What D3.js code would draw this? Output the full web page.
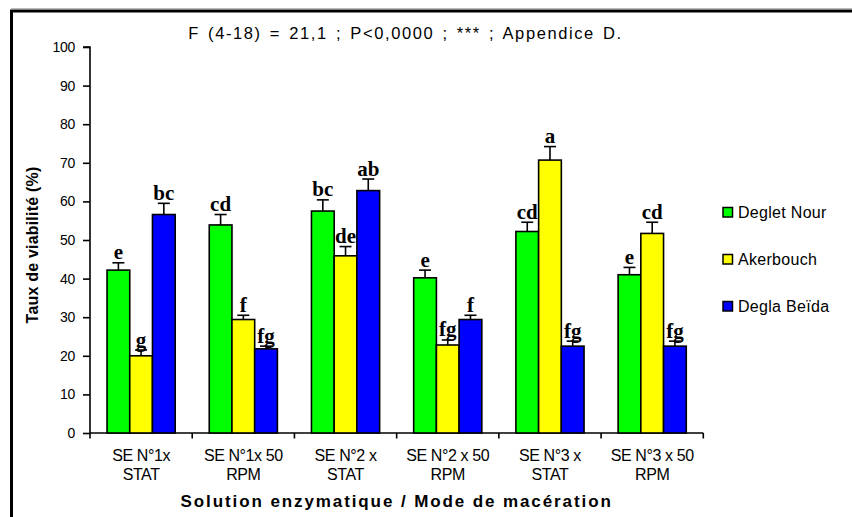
<!DOCTYPE html>
<html><head><meta charset="utf-8">
<script src="https://cdn.jsdelivr.net/npm/d3@7"></script>
<style>body{margin:0;background:#fff}svg{display:block}</style>
</head><body>
<script>
const categories = [["SE N°1x","STAT"],["SE N°1x 50","RPM"],["SE N°2 x","STAT"],["SE N°2 x 50","RPM"],["SE N°3 x","STAT"],["SE N°3 x 50","RPM"]];
const seriesNames = ["Deglet Nour","Akerbouch","Degla Beïda"];
const seriesColors = ["#00ff00","#ffff00","#0000ff"];
const degletNour = [42.2, 53.9, 57.5, 40.2, 52.2, 41.0];
const degletNourErr = [1.9, 2.7, 2.9, 2.0, 2.4, 1.9];
const degletNourLetters = ["e","cd","bc","e","cd","e"];
const akerbouch = [20.0, 29.4, 45.9, 22.8, 70.7, 51.7];
const akerbouchErr = [1.5, 1.1, 2.4, 1.3, 3.5, 2.9];
const akerbouchLetters = ["g","f","de","fg","a","cd"];
const deglaBeida = [56.6, 21.8, 62.8, 29.4, 22.5, 22.5];
const deglaBeidaErr = [2.9, 0.7, 3.0, 1.1, 1.3, 1.3];
const deglaBeidaLetters = ["bc","fg","ab","f","fg","fg"];
const yTicks = [0,10,20,30,40,50,60,70,80,90,100];
const titleText = "F (4-18) = 21,1 ; P<0,0000 ; *** ; Appendice D.";
const xTitle = "Solution enzymatique / Mode de macération";
const yTitle = "Taux de viabilité (%)";

const values = [degletNour, akerbouch, deglaBeida];
const errs = [degletNourErr, akerbouchErr, deglaBeidaErr];
const letters = [degletNourLetters, akerbouchLetters, deglaBeidaLetters];

const W = 852, H = 517;
const svg = d3.select("body").append("svg").attr("width", W).attr("height", H);

// frame
svg.append("line").attr("x1",11).attr("x2",W).attr("y1",8.5).attr("y2",8.5).attr("stroke","#bbb").attr("stroke-width",1);
svg.append("line").attr("x1",10).attr("x2",W).attr("y1",11).attr("y2",11).attr("stroke","#000").attr("stroke-width",3);
svg.append("line").attr("x1",11.5).attr("x2",11.5).attr("y1",10).attr("y2",H).attr("stroke","#000").attr("stroke-width",3);

const xLeft = 90, xRight = 703.3, yTop = 47, yBottom = 433;
const y = d3.scaleLinear().domain([0,100]).range([yBottom, yTop]);
const catIdx = d3.range(categories.length);
const x0 = d3.scaleBand().domain(catIdx).range([xLeft, xRight]).padding(0);
const bw = x0.bandwidth();
const x1 = d3.scaleBand().domain(d3.range(seriesNames.length)).range([bw/6, bw*5/6]).padding(0);

// y axis
const yAxis = d3.axisLeft(y).tickValues(yTicks).tickSize(7).tickPadding(8);
const gy = svg.append("g").attr("transform",`translate(${xLeft},0)`).call(yAxis);
gy.select(".domain").attr("stroke","#000").attr("stroke-width",1.6).attr("d",`M-7,${yTop}H0V${yBottom}`);
gy.selectAll(".tick line").attr("stroke","#000").attr("stroke-width",1.6);
gy.selectAll(".tick text").attr("font-family","Arial, 'Liberation Sans', sans-serif").attr("font-size",14).attr("fill","#000").attr("letter-spacing","-0.3px");

// x axis
const boundaries = d3.range(categories.length+1).map(i => i < categories.length ? x0(i) : xRight);
svg.append("line").attr("x1",xLeft).attr("x2",xRight).attr("y1",yBottom).attr("y2",yBottom).attr("stroke","#000").attr("stroke-width",1.6);
svg.append("g").selectAll("line").data(boundaries).join("line")
  .attr("x1",d=>d).attr("x2",d=>d).attr("y1",yBottom).attr("y2",yBottom+5.5).attr("stroke","#000").attr("stroke-width",1.6);

// category labels
const catG = svg.append("g").attr("font-family","Arial, 'Liberation Sans', sans-serif").attr("font-size",16).attr("fill","#000").attr("text-anchor","middle");
catIdx.forEach(i => {
  const t = catG.append("text").attr("x", x0(i)+bw/2).attr("y",460.5).attr("letter-spacing","-0.4px");
  t.append("tspan").attr("x", x0(i)+bw/2).text(categories[i][0]);
  t.append("tspan").attr("x", x0(i)+bw/2).attr("dy",19).text(categories[i][1]);
});

// bars
values.forEach((vals, s) => {
  const g = svg.append("g");
  vals.forEach((v, i) => {
    const bx = x0(i) + x1(s), w = x1.bandwidth();
    const top = y(v), et = y(v + errs[s][i]);
    const cx = bx + w/2;
    g.append("line").attr("x1",cx).attr("x2",cx).attr("y1",top).attr("y2",et).attr("stroke","#000").attr("stroke-width",1.6);
    g.append("line").attr("x1",cx-6).attr("x2",cx+6).attr("y1",et).attr("y2",et).attr("stroke","#000").attr("stroke-width",1.6);
    g.append("rect").attr("x",bx).attr("y",top).attr("width",w).attr("height",yBottom-top)
      .attr("fill",seriesColors[s]).attr("stroke","#000").attr("stroke-width",1.6);
    g.append("text").attr("x",cx).attr("y",et-3.5).attr("text-anchor","middle")
      .attr("font-family","'Times New Roman','Liberation Serif',serif").attr("font-weight","bold").attr("font-size",21)
      .text(letters[s][i]);
  });
});

// title
svg.append("text").attr("x",405.5).attr("y",39).attr("text-anchor","middle")
  .attr("font-family","Arial, 'Liberation Sans', sans-serif").attr("font-size",16.5)
  .attr("letter-spacing","1.6px").attr("word-spacing","2px").text(titleText);

// axis titles
svg.append("text").attr("x",(xLeft+xRight)/2).attr("y",507).attr("text-anchor","middle")
  .attr("font-family","Arial, 'Liberation Sans', sans-serif").attr("font-size",17).attr("font-weight","bold")
  .attr("letter-spacing","1.9px").text(xTitle);
svg.append("text").attr("transform","translate(38,245) rotate(-90)").attr("text-anchor","middle")
  .attr("font-family","Arial, 'Liberation Sans', sans-serif").attr("font-size",16).attr("font-weight","bold")
  .attr("letter-spacing","0.2px").text(yTitle);

// legend
const leg = svg.append("g");
seriesNames.forEach((n, s) => {
  const cy = 212 + s*47;
  leg.append("rect").attr("x",723).attr("y",cy-4.5).attr("width",9.5).attr("height",9.5)
    .attr("fill",seriesColors[s]).attr("stroke","#000").attr("stroke-width",1.5);
  leg.append("text").attr("x",738).attr("y",cy+5.5).attr("font-family","Arial, 'Liberation Sans', sans-serif")
    .attr("font-size",16).attr("letter-spacing","0.3px").text(n);
});
</script>
</body></html>
